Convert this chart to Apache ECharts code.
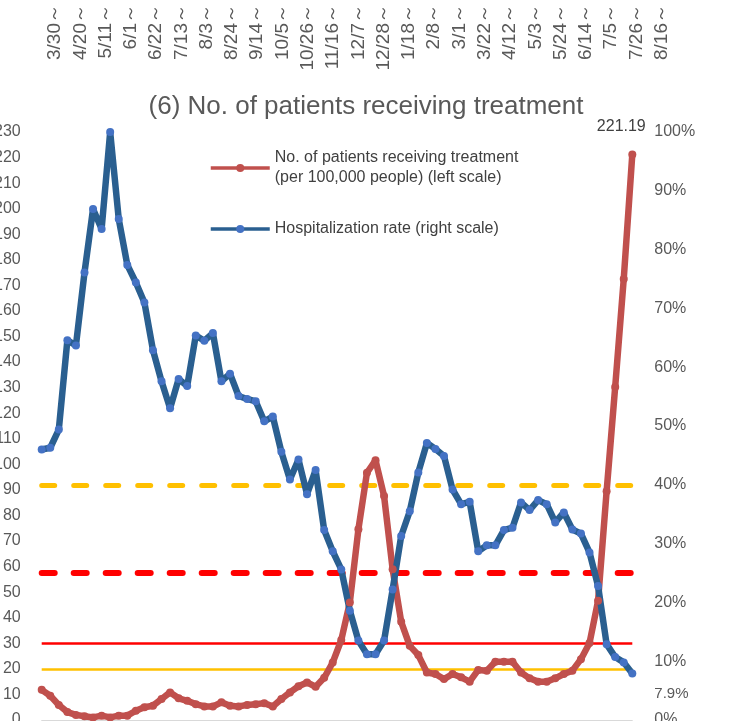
<!DOCTYPE html>
<html>
<head>
<meta charset="utf-8">
<title>No. of patients receiving treatment</title>
<script src="https://cdn.jsdelivr.net/npm/echarts@6/dist/echarts.min.js"></script>
<style>
  html, body { margin: 0; padding: 0; background: #fff; }
  #main { width: 738px; height: 721px; }
</style>
</head>
<body>
<div id="main"></div>
<script>
// week labels shown across the top (every 3 weeks)
var topLabels = ["3/30～", "4/20～", "5/11～", "6/1～", "6/22～", "7/13～", "8/3～", "8/24～",
  "9/14～", "10/5～", "10/26～", "11/16～", "12/7～", "12/28～", "1/18～", "2/8～", "3/1～",
  "3/22～", "4/12～", "5/3～", "5/24～", "6/14～", "7/5～", "7/26～", "8/16～"];

// patients receiving treatment per 100,000 people (left scale), weekly
var patients = [11.8, 9.5, 5.9, 3.1, 2.0, 1.5, 1.0, 1.7, 1.0, 1.7,
  1.7, 3.6, 5.0, 5.6, 8.2, 10.8, 8.5, 7.5, 6.2, 5.3,
  5.3, 6.9, 5.6, 5.3, 5.9, 6.2, 6.6, 5.3, 8.2, 10.8,
  13.2, 14.7, 13.0, 16.5, 22.5, 31.3, 46.0, 74.6, 96.7, 101.6,
  87.6, 59.0, 38.4, 29.0, 25.4, 18.6, 18.0, 16.0, 18.0, 16.7,
  15.0, 19.6, 19.3, 22.8, 22.8, 22.8, 18.6, 16.3, 15.0, 15.0,
  16.3, 18.0, 19.3, 23.8, 30.1, 46.6, 89.5, 130.3, 172.5, 221.19];

// hospitalization rate in % (right scale), weekly
var hospRate = [46.0, 46.3, 49.4, 64.6, 63.7, 76.1, 86.9, 83.5, 100, 85.2,
  77.4, 74.4, 71.0, 62.9, 57.6, 53.0, 58.0, 56.8, 65.4, 64.5,
  65.8, 57.6, 58.9, 55.1, 54.6, 54.2, 50.8, 51.6, 45.6, 40.9,
  44.3, 38.4, 42.5, 32.3, 28.7, 25.6, 18.6, 13.5, 11.2, 11.2,
  13.5, 22.2, 31.3, 35.5, 42.1, 47.1, 46.1, 44.9, 39.2, 36.7,
  37.1, 28.7, 29.7, 29.7, 32.3, 32.7, 37.0, 35.7, 37.4, 36.7,
  33.6, 35.3, 32.4, 31.7, 28.5, 22.8, 12.9, 10.7, 9.8, 7.9];

var weeks = [];
for (var i = 0; i < patients.length; i++) weeks.push("W" + (i + 1));

// stage thresholds
var patientLevels = [20, 30];   // left scale, solid lines
var rateLevels = [40, 25];      // right scale, dashed lines

var font = "Liberation Sans";
var grey = "#595959";

var patientsName = "No. of patients receiving treatment\n(per 100,000 people) (left scale)";
var rateName = "Hospitalization rate (right scale)";

var chart = echarts.init(document.getElementById("main"));

// put a label on the last point of a line
function withLastLabel(arr, label) {
  return arr.map(function (v, idx) {
    if (idx === arr.length - 1) return { value: v, label: label };
    return v;
  });
}

var option = {
  animation: false,
  title: {
    text: "(6) No. of patients receiving treatment",
    left: 361,
    top: 89,
    textAlign: "center",
    textStyle: { fontFamily: font, fontSize: 26, fontWeight: "normal", color: grey }
  },
  legend: {
    orient: "vertical",
    left: 209,
    top: 148,
    padding: 0,
    itemWidth: 59,
    itemHeight: 10,
    itemGap: 31,
    lineStyle: { width: 3.5 },
    textStyle: { fontFamily: font, fontSize: 16, color: "#404040", lineHeight: 20 },
    data: [patientsName, rateName]
  },
  grid: [
    { left: 41.7, right: 105.7, top: 132, bottom: 1, outerBoundsMode: "none" },
    { left: 55, right: 76.3, top: 0, height: 2, outerBoundsMode: "none" }
  ],
  xAxis: [
    {
      type: "category",
      gridIndex: 0,
      data: weeks,
      boundaryGap: false,
      axisLine: { lineStyle: { color: "#d9d9d9", width: 1 } },
      axisTick: { show: false },
      axisLabel: { show: false }
    },
    {
      type: "category",
      gridIndex: 1,
      data: topLabels,
      boundaryGap: false,
      axisLine: { show: false },
      axisTick: { show: false },
      axisLabel: {
        rotate: 90,
        margin: 2,
        interval: 0,
        fontFamily: font,
        fontSize: 19,
        color: grey
      }
    }
  ],
  yAxis: [
    {
      type: "value",
      gridIndex: 0,
      min: 0,
      max: 230,
      interval: 10,
      axisLine: { show: false },
      axisTick: { show: false },
      splitLine: { show: false },
      axisLabel: { margin: 21, fontFamily: font, fontSize: 16, color: grey }
    },
    {
      type: "value",
      gridIndex: 0,
      position: "right",
      min: 0,
      max: 100,
      interval: 10,
      axisLine: { show: false },
      axisTick: { show: false },
      splitLine: { show: false },
      axisLabel: { margin: 22, fontFamily: font, fontSize: 16, color: grey, formatter: "{value}%" }
    },
    { type: "value", gridIndex: 1, show: false }
  ],
  series: [
    {
      name: patientsName,
      type: "line",
      xAxisIndex: 0,
      yAxisIndex: 0,
      data: withLastLabel(patients, {
        show: true,
        position: "top",
        distance: 16,
        offset: [-11, 0],
        fontFamily: font,
        fontSize: 16,
        color: "#404040",
        formatter: "{c}"
      }),
      symbol: "circle",
      symbolSize: 8,
      showAllSymbol: true,
      lineStyle: { color: "#c0504d", width: 6.5 },
      itemStyle: { color: "#c0504d" },
      markLine: {
        silent: true,
        z: 1,
        symbol: "none",
        label: { show: false },
        data: [
          { yAxis: patientLevels[0], lineStyle: { color: "#ffc000", width: 2.5, type: "solid" } },
          { yAxis: patientLevels[1], lineStyle: { color: "#ff0000", width: 2.5, type: "solid" } }
        ]
      }
    },
    {
      name: rateName,
      type: "line",
      xAxisIndex: 0,
      yAxisIndex: 1,
      data: withLastLabel(hospRate, {
        show: true,
        position: "right",
        distance: 18,
        offset: [0, 20],
        fontFamily: font,
        fontSize: 15,
        color: grey,
        formatter: "{c}%"
      }),
      symbol: "circle",
      symbolSize: 8,
      showAllSymbol: true,
      lineStyle: { color: "#2a5f90", width: 6.5 },
      itemStyle: { color: "#4472c4" },
      markLine: {
        silent: true,
        z: 1,
        symbol: "none",
        label: { show: false },
        data: [
          { yAxis: rateLevels[0], lineStyle: { color: "#ffc000", width: 5, type: [13, 19], cap: "round" } },
          { yAxis: rateLevels[1], lineStyle: { color: "#ff0000", width: 6, type: [13, 19], cap: "round" } }
        ]
      }
    }
  ]
};

chart.setOption(option);
</script>
</body>
</html>
